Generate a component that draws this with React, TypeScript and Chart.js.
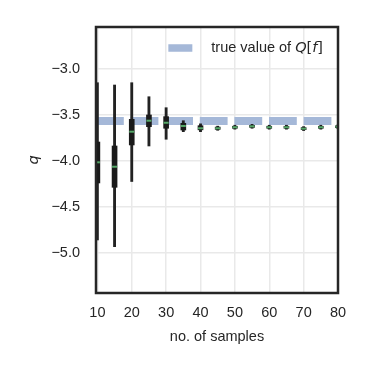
import React, { useEffect, useRef } from 'react';
import { Chart, registerables } from 'chart.js';

Chart.register(...registerables);

// ---- data ----
const sampleSizes = [10, 15, 20, 25, 30, 35, 40, 45, 50, 55, 60, 65, 70, 75, 80];
const whiskerHigh = [-3.154, -3.179, -3.154, -3.306, -3.425, -3.566, -3.600, -3.625, -3.615, -3.605, -3.615, -3.615, -3.630, -3.615, -3.610];
const upperQuartile = [-3.797, -3.840, -3.551, -3.504, -3.522, -3.594, -3.620, -3.635, -3.626, -3.616, -3.626, -3.626, -3.641, -3.626, -3.621];
const medians = [-4.017, -4.065, -3.685, -3.566, -3.588, -3.623, -3.648, -3.648, -3.637, -3.627, -3.637, -3.637, -3.652, -3.637, -3.631];
const lowerQuartile = [-4.241, -4.288, -3.829, -3.631, -3.648, -3.667, -3.665, -3.660, -3.648, -3.638, -3.648, -3.648, -3.663, -3.648, -3.642];
const whiskerLow = [-4.859, -4.932, -4.225, -3.840, -3.767, -3.685, -3.685, -3.670, -3.658, -3.648, -3.658, -3.658, -3.673, -3.658, -3.652];
const trueValue = -3.568;
const xTicks = [10, 20, 30, 40, 50, 60, 70, 80];
const yTicks = [-5.0, -4.5, -4.0, -3.5, -3.0];
const xRange = [9.6, 80];
const yRange = [-5.434, -2.55];
const legendLabel = ['true value of ', 'Q', '[', 'f', ']'];

const TEXT = '#262626';
const FONT = 'Liberation Sans';
const FS = 14.5;

const fmt = (v: number) => (v < 0 ? '\u2212' : '') + Math.abs(v).toFixed(1);

const framePlugin = {
  id: 'frameAndLegend',
  afterDraw(chart: any) {
    const { ctx, chartArea } = chart;
    const { left, right, top, bottom } = chartArea;
    ctx.save();
    ctx.strokeStyle = TEXT;
    ctx.lineWidth = 2.5;
    ctx.strokeRect(left, top, right - left, bottom - top);

    // legend inside the axes, top right
    const cy = top + 21;
    const parts = legendLabel.map((t, i) => ({
      t,
      font: i === 1 || i === 3 ? `italic ${FS}px "DejaVu Sans"` : i === 0 ? `${FS}px "${FONT}"` : `${FS}px "DejaVu Sans"`,
    }));
    let total = 0;
    for (const p of parts) {
      ctx.font = p.font;
      total += ctx.measureText(p.t).width;
    }
    let x = right - 15 - total;
    const boxR = x - 19;
    ctx.fillStyle = '#a5b8d8';
    ctx.fillRect(boxR - 24, cy - 3.75, 24, 7.5);
    ctx.fillStyle = TEXT;
    ctx.textBaseline = 'middle';
    ctx.textAlign = 'left';
    for (const p of parts) {
      ctx.font = p.font;
      ctx.fillText(p.t, x, cy);
      x += ctx.measureText(p.t).width;
    }
    ctx.restore();
  },
};

export default function App() {
  const ref = useRef<HTMLCanvasElement | null>(null);
  useEffect(() => {
    if (!ref.current) return;
    const chart = new Chart(ref.current, {
      type: 'bar',
      data: {
        datasets: [
          {
            type: 'line',
            label: 'true value',
            data: [{ x: xRange[0], y: trueValue }, { x: xRange[1], y: trueValue }],
            borderColor: '#a5b8d8',
            borderWidth: 8,
            borderDash: [27.8, 6.8],
            borderCapStyle: 'butt',
            pointRadius: 0,
            order: 4,
          } as any,
          {
            label: 'whiskers',
            data: sampleSizes.map((s, i) => ({ x: s, y: [whiskerLow[i], whiskerHigh[i]] })),
            backgroundColor: '#222222',
            barThickness: 2.2,
            grouped: false,
            clip: 0,
            order: 3,
          } as any,
          {
            label: 'boxes',
            data: sampleSizes.map((s, i) => ({ x: s, y: [lowerQuartile[i], upperQuartile[i]] })),
            backgroundColor: '#1a1a1a',
            barThickness: 5,
            grouped: false,
            clip: 0,
            order: 2,
          } as any,
          {
            type: 'line',
            label: 'medians',
            data: sampleSizes.map((s, i) => ({ x: s, y: medians[i] })),
            showLine: false,
            pointStyle: 'line',
            pointRadius: 2.5,
            pointBorderWidth: 2,
            pointBorderColor: '#55a868',
            pointBackgroundColor: '#55a868',
            clip: 0,
            order: 1,
          } as any,
        ],
      },
      options: {
        responsive: false,
        animation: false,
        events: [],
        layout: { padding: { left: 0, top: 27, right: 35, bottom: 0 } },
        plugins: { legend: { display: false }, tooltip: { enabled: false } },
        scales: {
          x: {
            type: 'linear',
            min: xRange[0],
            max: xRange[1],
            offset: false,
            afterFit: (s: any) => { s.height = 80; },
            afterBuildTicks: (s: any) => { s.ticks = xTicks.map((v) => ({ value: v })); },
            grid: { color: '#e9e9e9', lineWidth: 1.5, drawTicks: false, offset: false },
            border: { display: false },
            ticks: { color: TEXT, font: { family: FONT, size: FS }, padding: 11, callback: (v: any) => String(v), maxRotation: 0 },
            title: { display: true, text: 'no. of samples', color: TEXT, font: { family: FONT, size: FS }, padding: { top: 0, bottom: 27 } },
          },
          y: {
            type: 'linear',
            min: yRange[0],
            max: yRange[1],
            afterFit: (s: any) => { s.width = 96; },
            afterBuildTicks: (s: any) => { s.ticks = yTicks.map((v) => ({ value: v })); },
            grid: { color: '#e9e9e9', lineWidth: 1.5, drawTicks: false },
            border: { display: false },
            ticks: { color: TEXT, font: { family: FONT, size: FS }, padding: 16, callback: (v: any) => fmt(Number(v)) },
            title: { display: true, text: 'q', color: TEXT, font: { family: 'DejaVu Sans', size: FS, style: 'italic' }, padding: { top: 26, bottom: 0 } },
          },
        },
      } as any,
      plugins: [framePlugin],
    });
    return () => chart.destroy();
  }, []);
  return (
    <div style={{ position: 'absolute', left: 0, top: 0, background: '#fff' }}>
      <canvas ref={ref} width={373} height={373} style={{ display: 'block' }} />
    </div>
  );
}
